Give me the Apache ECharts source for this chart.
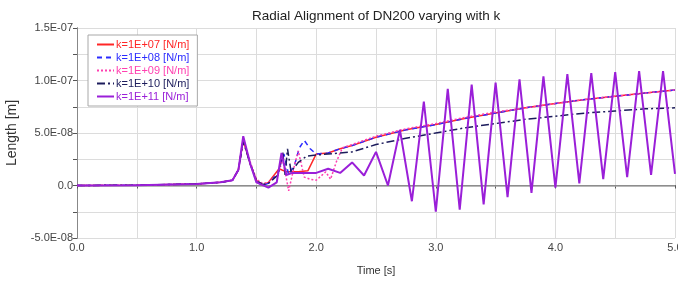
<!DOCTYPE html>
<html>
<head>
<meta charset="utf-8">
<script src="https://cdn.jsdelivr.net/npm/echarts@6/dist/echarts.min.js"></script>
<style>
  html, body { margin: 0; padding: 0; background: #fff; }
  #chart { width: 678px; height: 282px; }
</style>
</head>
<body>
<div id="chart"></div>
<script>
// values are in units of 1E-08 m, time in s
const seriesNames = ["k=1E+07 [N/m]", "k=1E+08 [N/m]", "k=1E+09 [N/m]", "k=1E+10 [N/m]", "k=1E+11 [N/m]"];
const seriesColors = ["#ff2626", "#2b2bff", "#ff3fb0", "#1c1c5c", "#9a1fd8"];

const k1e07 = [[0,0],[0.5,0.03],[1.0,0.15],[1.2,0.3],[1.3,0.5],[1.35,1.5],[1.39,4.3],[1.45,2.0],[1.5,0.5],[1.55,0.0],[1.6,0.3],[1.69,1.6],[1.75,1.3],[1.85,1.3],[1.93,1.4],[2.0,3.0],[2.1,3.1],[2.2,3.5],[2.3,3.8],[2.5,4.6],[2.75,5.3],[3.0,5.8],[3.25,6.4],[3.5,6.9],[3.75,7.4],[4.0,7.8],[4.25,8.2],[4.5,8.5],[4.75,8.8],[5.0,9.1]];
const k1e08 = [[0,0],[0.5,0.03],[1.0,0.15],[1.2,0.3],[1.3,0.5],[1.35,1.5],[1.39,4.4],[1.45,2.0],[1.5,0.4],[1.55,0.0],[1.6,0.2],[1.68,1.2],[1.73,3.0],[1.77,1.0],[1.82,2.0],[1.86,3.6],[1.9,4.3],[1.95,3.5],[2.0,3.0],[2.1,3.1],[2.2,3.5],[2.3,3.8],[2.5,4.6],[2.75,5.3],[3.0,5.8],[3.25,6.4],[3.5,6.9],[3.75,7.4],[4.0,7.8],[4.25,8.2],[4.5,8.5],[4.75,8.8],[5.0,9.1]];
const k1e09 = [[0,0],[0.5,0.03],[1.0,0.15],[1.2,0.3],[1.3,0.5],[1.35,1.6],[1.39,4.5],[1.45,2.2],[1.5,0.6],[1.55,0.2],[1.6,0.3],[1.68,1.0],[1.72,2.5],[1.77,-0.5],[1.82,2.0],[1.85,3.3],[1.9,0.8],[1.95,0.6],[2.0,0.5],[2.08,1.3],[2.12,0.6],[2.17,2.3],[2.22,3.6],[2.3,3.9],[2.5,4.7],[2.75,5.4],[3.0,5.9],[3.25,6.5],[3.5,7.0],[3.75,7.4],[4.0,7.8],[4.25,8.2],[4.5,8.5],[4.75,8.8],[5.0,9.1]];
const k1e10 = [[0,0],[0.5,0.03],[1.0,0.15],[1.2,0.3],[1.3,0.5],[1.35,1.5],[1.39,4.2],[1.45,2.0],[1.5,0.5],[1.55,0.1],[1.6,0.2],[1.68,1.0],[1.72,3.2],[1.74,1.0],[1.76,3.5],[1.79,1.3],[1.85,2.2],[1.92,2.8],[2.0,2.9],[2.3,3.2],[2.5,3.9],[2.75,4.5],[3.0,5.0],[3.25,5.5],[3.5,5.9],[3.75,6.3],[4.0,6.6],[4.25,6.9],[4.5,7.1],[4.75,7.3],[5.0,7.4]];
const k1e11 = [[0,0],[0.5,0.03],[1.0,0.15],[1.2,0.3],[1.3,0.5],[1.35,1.5],[1.39,4.7],[1.45,2.0],[1.5,0.3],[1.6,-0.2],[1.67,0.3],[1.71,3.1],[1.75,1.0],[1.8,1.2],[1.9,1.2],[2.0,1.2],[2.1,1.6],[2.2,1.2],[2.3,2.2],[2.4,0.95],[2.5,3.2],[2.6,0.0],[2.7,5.3],[2.8,-1.5],[2.9,8.0],[3.0,-2.5],[3.1,9.2],[3.2,-2.3],[3.3,9.6],[3.4,-1.8],[3.5,9.8],[3.6,-1.1],[3.7,10.1],[3.8,-0.7],[3.9,10.4],[4.0,-0.2],[4.1,10.6],[4.2,0.2],[4.3,10.7],[4.4,0.6],[4.5,10.8],[4.6,0.8],[4.7,10.9],[4.8,1.0],[4.9,10.9],[5.0,1.1]];

const yTickValues = [-5, 0, 5, 10, 15];
const yTickLabels = ["-5.0E-08", "0.0", "5.0E-08", "1.0E-07", "1.5E-07"];
const xTickValues = [0, 1, 2, 3, 4, 5];
const xTickLabels = ["0.0", "1.0", "2.0", "3.0", "4.0", "5.0"];

const allData = [k1e07, k1e08, k1e09, k1e10, k1e11];
const lineTypes = ["solid", [5, 4], [2, 2], [8, 3, 2, 3], "solid"];
const lineWidths = [1.5, 1.5, 1.5, 1.5, 2];

const chart = echarts.init(document.getElementById("chart"));

const series = allData.map((d, i) => ({
  name: seriesNames[i],
  type: "line",
  data: d,
  symbol: "none",
  color: seriesColors[i],
  lineStyle: { width: lineWidths[i], type: lineTypes[i] },
  z: 3 + i
}));
// zero line
series.push({
  type: "line",
  data: [],
  silent: true,
  z: 2,
  markLine: {
    silent: true,
    symbol: "none",
    label: { show: false },
    lineStyle: { color: "#a0a0a0", width: 1.5, type: "solid" },
    data: [{ yAxis: 0 }]
  }
});

chart.setOption({
  animation: false,
  textStyle: { fontFamily: "Liberation Sans, Arial, sans-serif" },
  title: {
    text: "Radial Alignment of DN200 varying with k",
    left: 247,
    top: 4,
    textStyle: { fontSize: 13.5, fontWeight: "normal", color: "#222" }
  },
  legend: {
    orient: "vertical",
    left: 88,
    top: 35,
    padding: [4, 8, 4, 8],
    itemWidth: 17,
    itemHeight: 10,
    itemGap: 2,
    itemStyle: { opacity: 0 },
    backgroundColor: "#fff",
    borderColor: "#a8a8a8",
    borderWidth: 1,
    data: seriesNames.map((n, i) => ({ name: n, textStyle: { color: seriesColors[i] } })),
    textStyle: { fontSize: 11, padding: [0, 0, 0, -3] }
  },
  grid: { left: 77, right: 3, top: 28, bottom: 44, outerBoundsMode: "none" },
  xAxis: [{
    type: "value",
    min: 0,
    max: 5,
    interval: 0.5,
    name: "Time [s]",
    nameLocation: "middle",
    nameGap: 27,
    nameTextStyle: { fontSize: 11, color: "#333" },
    axisLine: { lineStyle: { color: "#555" } },
    axisTick: { length: 3, lineStyle: { color: "#555" } },
    axisLabel: {
      fontSize: 11,
      color: "#444",
      margin: 4,
      formatter: v => {
        const i = xTickValues.indexOf(v);
        return i >= 0 ? xTickLabels[i] : "";
      }
    },
    splitLine: { show: true, lineStyle: { color: "#dcdcdc" } }
  }, {
    // top edge of the plot box
    type: "value", position: "top", min: 0, max: 5, show: true,
    axisLine: { lineStyle: { color: "#555" } }, axisTick: { show: false },
    axisLabel: { show: false }, splitLine: { show: false }
  }],
  yAxis: [{
    type: "value",
    min: -5,
    max: 15,
    interval: 2.5,
    name: "Length [m]",
    nameLocation: "middle",
    nameGap: 58,
    nameTextStyle: { fontSize: 14, color: "#333" },
    axisLine: { show: true, lineStyle: { color: "#555" } },
    axisTick: { show: true, length: 4, lineStyle: { color: "#555" } },
    axisLabel: {
      fontSize: 11,
      color: "#444",
      margin: 4,
      formatter: v => {
        const i = yTickValues.indexOf(v);
        return i >= 0 ? yTickLabels[i] : "";
      }
    },
    splitLine: { show: true, lineStyle: { color: "#dcdcdc" } }
  }, {
    // right edge of the plot box
    type: "value", position: "right", min: -5, max: 15, show: true,
    axisLine: { show: true, lineStyle: { color: "#888" } }, axisTick: { show: false },
    axisLabel: { show: false }, splitLine: { show: false }
  }],
  series: series
});
</script>
</body>
</html>
